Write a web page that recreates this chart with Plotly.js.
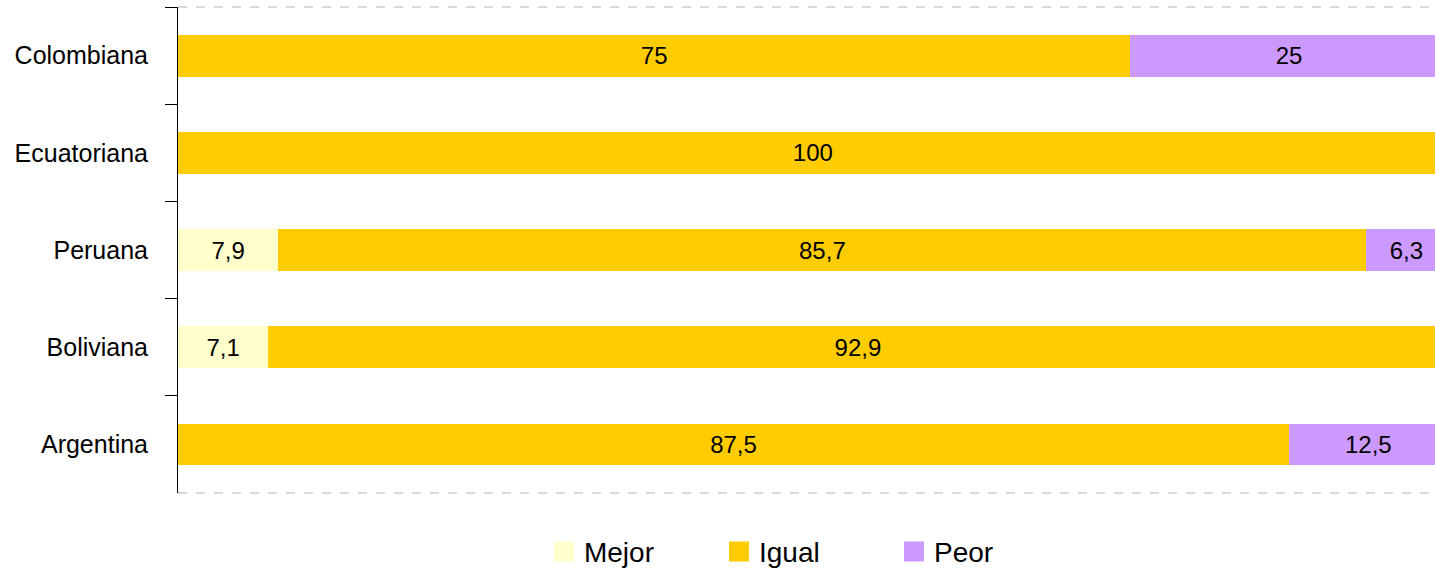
<!DOCTYPE html>
<html>
<head>
<meta charset="utf-8">
<script src="https://cdn.plot.ly/plotly-3.0.1.min.js"></script>
<style>
  html, body { margin: 0; padding: 0; background: #fff; }
  #chart { width: 1435px; height: 570px; }
</style>
</head>
<body>
<div id="chart"></div>
<script>
const countries = ["Colombiana", "Ecuatoriana", "Peruana", "Boliviana", "Argentina"];
const seriesNames = ["Mejor", "Igual", "Peor"];
const seriesColors = ["#FFFFCC", "#FFCC00", "#CC99FF"];
const mejor = [0, 0, 7.9, 7.1, 0];
const igual = [75, 100, 85.7, 92.9, 87.5];
const peor = [25, 0, 6.3, 0, 12.5];

const label = v => (v ? String(v).replace(".", ",") : "");
const font = "Liberation Sans, Arial, sans-serif";

function barTrace(name, values, color) {
  return {
    type: "bar",
    orientation: "h",
    name,
    legendgroup: name,
    showlegend: false,
    y: countries,
    x: values,
    marker: { color },
    text: values.map(label),
    textposition: "inside",
    insidetextanchor: "middle",
    textangle: 0,
    constraintext: "none",
    cliponaxis: true,
    textfont: { family: font, size: 24, color: "#000" },
    hoverinfo: "skip"
  };
}

// legend-only entries so the swatches can be drawn as big squares
function legendTrace(name, color) {
  return {
    type: "scatter",
    mode: "markers",
    name,
    legendgroup: name,
    x: [null],
    y: [null],
    marker: { symbol: "square", size: 22, color, line: { color, width: 4 } },
    hoverinfo: "skip"
  };
}

const traces = [
  barTrace("Mejor", mejor, seriesColors[0]),
  barTrace("Igual", igual, seriesColors[1]),
  barTrace("Peor", peor, seriesColors[2]),
  ...seriesNames.map((n, i) => legendTrace(n, seriesColors[i]))
];

const dashed = y => ({
  type: "line", xref: "paper", yref: "paper",
  x0: 0, x1: 1, y0: y, y1: y,
  line: { color: "#d9d9d9", width: 2, dash: "dash" }
});

const layout = {
  width: 1435,
  height: 570,
  margin: { l: 178, r: 0, t: 7, b: 77 },
  paper_bgcolor: "#fff",
  plot_bgcolor: "#fff",
  barmode: "stack",
  bargap: 0.57,
  showlegend: true,
  font: { family: font, color: "#000" },
  xaxis: {
    range: [0, 99],
    visible: false,
    fixedrange: true
  },
  yaxis: {
    autorange: "reversed",
    showgrid: false,
    showline: true,
    linecolor: "#000",
    linewidth: 1,
    ticks: "outside",
    tickson: "boundaries",
    ticklen: 12,
    tickcolor: "#000",
    ticklabelstandoff: 24,
    tickfont: { family: font, size: 25, color: "#000" },
    fixedrange: true
  },
  legend: {
    orientation: "h",
    traceorder: "normal",
    xref: "container",
    x: 0.562,
    xanchor: "center",
    yref: "container",
    y: 0.032,
    yanchor: "middle",
    font: { family: font, size: 28, color: "#000" },
    itemsizing: "trace",
    entrywidth: 130,
    entrywidthmode: "pixels"
  },
  shapes: [dashed(1), dashed(0)]
};

Plotly.newPlot("chart", traces, layout, { displayModeBar: false, staticPlot: true });
</script>
</body>
</html>
